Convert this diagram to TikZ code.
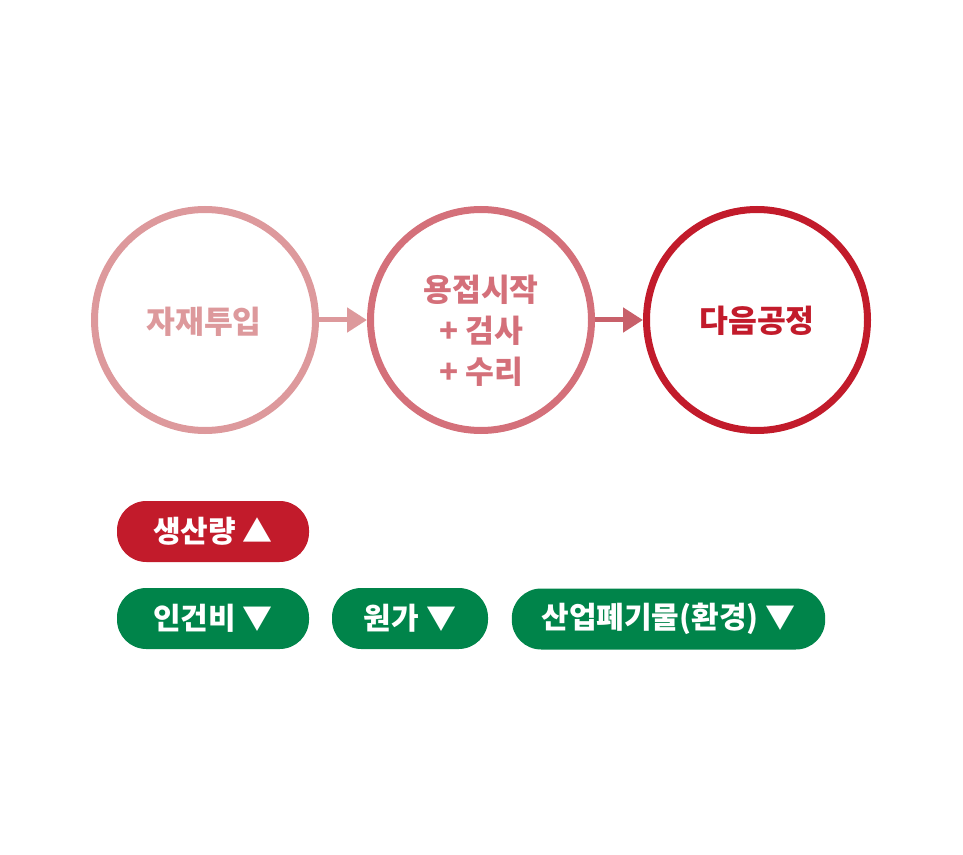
\documentclass[tikz,border=0pt]{standalone}
\usepackage{fontspec}
\setmainfont{Noto Sans CJK KR}
\usetikzlibrary{arrows.meta, positioning}

\definecolor{pinkA}{HTML}{DD999C}
\definecolor{pinkB}{HTML}{D4707A}
\definecolor{arrowB}{HTML}{C8606A}
\definecolor{redC}{HTML}{C21B2B}
\definecolor{greenC}{HTML}{00844A}

\begin{document}
\begin{tikzpicture}[x=0.75pt, y=-0.75pt,
  stage/.style={circle, draw, line width=5.25pt, minimum size=165.75pt, inner sep=0pt},
  stagetext/.style={font=\bfseries\fontsize{23.5pt}{30.75pt}\selectfont, align=center, inner sep=0pt},
  flow/.style={line width=3.75pt, -{Triangle[length=15pt, width=18pt]}},
  pill/.style={rounded corners=22pt, minimum height=45.75pt, text=white, inner sep=0pt,
    font=\bfseries\fontsize{22.5pt}{26pt}\selectfont}]

\useasboundingbox (0, 0) rectangle (963, 855);

\node [stage, color=pinkA] (input) at (205, 320) {};
\node [stage, color=pinkB] (weld) at (481, 320) {};
\node [stage, color=redC] (next) at (757, 320) {};

\node [stagetext, pinkA] (inputtext) at (204, 322) {자재투입};
\node [stagetext, pinkB] (weldtext) at (481, 331) {용접시작\\+ 검사\\+ 수리};
\node [stagetext, redC] (nexttext) at (757, 321) {다음공정};

\draw [flow, pinkA] (input) -- (weld);
\draw [flow, arrowB] (weld) -- (next);

\node [pill, fill=redC, minimum width=144pt] (output) at (213, 531.5) {생산량 ▲};

\node [pill, fill=greenC, minimum width=144pt] (labor) at (213, 618.5) {인건비 ▼};
\node [pill, fill=greenC, minimum width=117pt] (cost) at (410, 618.5) {원가 ▼};
\node [pill, fill=greenC, minimum width=235pt] (waste) at (668.5, 619) {산업폐기물(환경) ▼};

\end{tikzpicture}
\end{document}
